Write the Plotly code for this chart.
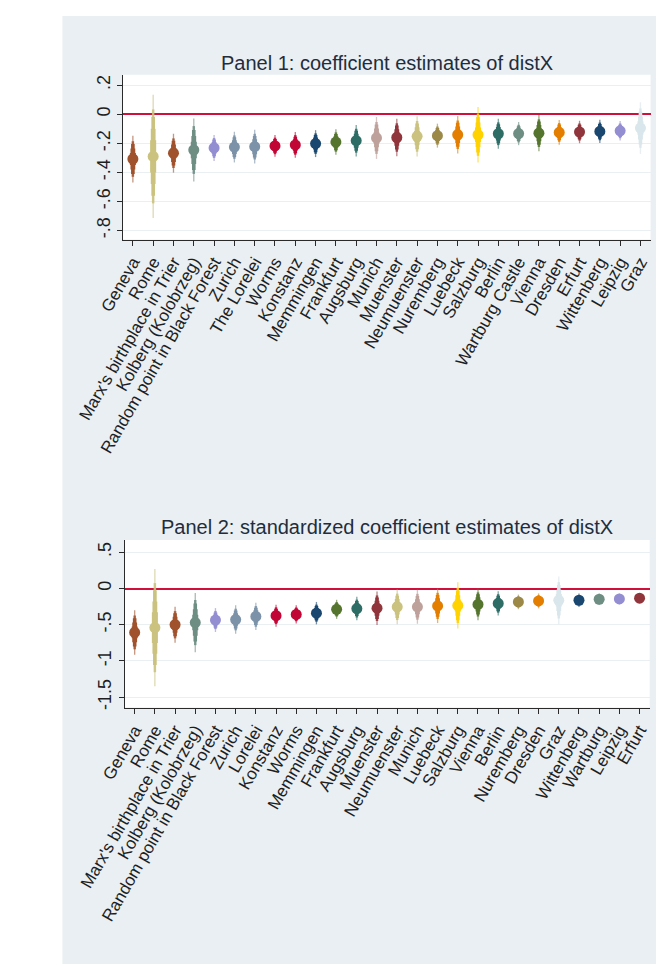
import plotly.graph_objects as go

# ---------------- data ----------------
p1_labels = ["Geneva", "Rome", "Marx's birthplace in Trier", "Kolberg (Kolobrzeg)",
             "Random point in Black Forest", "Zurich", "The Lorelei", "Worms", "Konstanz",
             "Memmingen", "Frankfurt", "Augsburg", "Munich", "Muenster", "Neumuenster",
             "Nuremberg", "Luebeck", "Salzburg", "Berlin", "Wartburg Castle", "Vienna",
             "Dresden", "Erfurt", "Wittenberg", "Leipzig", "Graz"]
p1_est = [-0.308, -0.290, -0.268, -0.246, -0.232, -0.226, -0.223, -0.218, -0.211,
          -0.202, -0.191, -0.182, -0.163, -0.160, -0.152, -0.147, -0.141, -0.141,
          -0.134, -0.133, -0.130, -0.125, -0.122, -0.118, -0.114, -0.095]
p1_se = [0.0625, 0.165, 0.052, 0.084, 0.035, 0.041, 0.045, 0.029, 0.0345,
         0.036, 0.034, 0.042, 0.056, 0.050, 0.054, 0.032, 0.050, 0.074,
         0.040, 0.031, 0.0485, 0.033, 0.030, 0.031, 0.026, 0.069]

p2_labels = ["Geneva", "Rome", "Marx's birthplace in Trier", "Kolberg (Kolobrzeg)",
             "Random point in Black Forest", "Zurich", "Lorelei", "Konstanz", "Worms",
             "Memmingen", "Frankfurt", "Augsburg", "Muenster", "Neumuenster", "Munich",
             "Luebeck", "Salzburg", "Vienna", "Berlin", "Nuremberg", "Dresden", "Graz",
             "Wittenberg", "Wartburg", "Leipzig", "Erfurt"]
p2_est = [-0.606, -0.540, -0.500, -0.470, -0.435, -0.428, -0.385, -0.375, -0.357,
          -0.340, -0.287, -0.277, -0.272, -0.253, -0.252, -0.240, -0.234, -0.220,
          -0.206, -0.185, -0.171, -0.163, -0.162, -0.148, -0.144, -0.134]
p2_se = [0.119, 0.314, 0.096, 0.159, 0.064, 0.076, 0.073, 0.059, 0.0485,
         0.060, 0.051, 0.063, 0.090, 0.093, 0.091, 0.092, 0.124, 0.085,
         0.065, 0.039, 0.040, 0.128, 0.036, 0.031, 0.029, 0.023]

p1_yticks = [0.2, 0, -0.2, -0.4, -0.6, -0.8]
p1_yticktext = [".2", "0", "-.2", "-.4", "-.6", "-.8"]
p2_yticks = [0.5, 0, -0.5, -1, -1.5]
p2_yticktext = [".5", "0", "-.5", "-1", "-1.5"]

title1 = "Panel 1: coefficient estimates of distX"
title2 = "Panel 2: standardized coefficient estimates of distX"

# ---------------- styles ----------------
C = dict(navy="#1a476f", maroon="#90353b", forest="#55752f", dkorange="#e37e00",
         teal="#6e8e84", cranberry="#c10534", lavender="#938dd2", khaki="#cac27e",
         sienna="#a0522d", emidblue="#7b92a8", emerald="#2d6d66", brown="#9c8847",
         erose="#bfa19c", gold="#ffd200", bluishgray="#d9e6eb")
city_color = {
    "Geneva": C["sienna"], "Rome": C["khaki"], "Marx's birthplace in Trier": C["sienna"],
    "Kolberg (Kolobrzeg)": C["teal"], "Random point in Black Forest": C["lavender"],
    "Zurich": C["emidblue"], "The Lorelei": C["emidblue"], "Lorelei": C["emidblue"],
    "Worms": C["cranberry"], "Konstanz": C["cranberry"], "Memmingen": C["navy"],
    "Frankfurt": C["forest"], "Augsburg": C["emerald"], "Munich": C["erose"],
    "Muenster": C["maroon"], "Neumuenster": C["khaki"], "Nuremberg": C["brown"],
    "Luebeck": C["dkorange"], "Salzburg": C["gold"], "Berlin": C["emerald"],
    "Wartburg Castle": C["teal"], "Wartburg": C["teal"], "Vienna": C["forest"],
    "Dresden": C["dkorange"], "Erfurt": C["maroon"], "Wittenberg": C["navy"],
    "Leipzig": C["lavender"], "Graz": C["bluishgray"],
}
# confidence levels drawn as nested spindle (z value, line width, opacity)
ci_levels = [(2.576, 1.3, 0.6), (1.960, 2.5, 0.85), (1.645, 3.6, 1.0),
             (1.150, 4.8, 1.0), (0.674, 6.0, 1.0)]

FONT = "Liberation Sans Narrow, Arial Narrow, Liberation Sans, Arial, sans-serif"
W, H = 664, 968

fig = go.Figure()


def add_panel(labels, est, se, xa, ya):
    for lab, e, s in zip(labels, est, se):
        col = city_color[lab]
        for z, w, op in ci_levels:
            fig.add_trace(go.Scatter(
                x=[lab, lab], y=[e - z * s, e + z * s], mode="lines",
                line=dict(color=col, width=w), opacity=op,
                xaxis=xa, yaxis=ya, showlegend=False, hoverinfo="skip"))
    fig.add_trace(go.Scatter(
        x=labels, y=est, mode="markers",
        marker=dict(color=[city_color[l] for l in labels], size=11, line=dict(width=0)),
        xaxis=xa, yaxis=ya, showlegend=False))


add_panel(p1_labels, p1_est, p1_se, "x", "y")
add_panel(p2_labels, p2_est, p2_se, "x2", "y2")

axis_common = dict(showline=True, linecolor="#2a2a2a", linewidth=1, ticks="outside",
                   ticklen=5, tickcolor="#2a2a2a", tickwidth=1, mirror=False)

xcommon = dict(axis_common, type="category", range=[-0.5, 25.5], tickangle=-60,
               showgrid=False, zeroline=False,
               tickfont=dict(family=FONT, size=17, color="#1e1e1e"))
ycommon = dict(axis_common, showgrid=True, gridcolor="#eaeff2", gridwidth=1,
               zeroline=True, zerolinecolor="#d0103a", zerolinewidth=1.6,
               tickangle=-90, tickfont=dict(family=FONT, size=18, color="#1e1e1e"))

fig.update_layout(
    width=W, height=H,
    margin=dict(l=0, r=0, t=0, b=0),
    paper_bgcolor="white", plot_bgcolor="white",
    showlegend=False,
    font=dict(family=FONT, color="#1e1e1e"),
    xaxis=dict(xcommon, domain=[73 / W, 642 / W], anchor="y",
               categoryorder="array", categoryarray=p1_labels),
    yaxis=dict(ycommon, domain=[1 - 232 / H, 1 - 67 / H], anchor="x",
               range=[-0.8625, 0.2715], tickvals=p1_yticks, ticktext=p1_yticktext),
    xaxis2=dict(xcommon, domain=[75 / W, 641 / W], anchor="y2",
                categoryorder="array", categoryarray=p2_labels),
    yaxis2=dict(ycommon, domain=[1 - 701 / H, 1 - 533 / H], anchor="x2",
                range=[-1.643, 0.671], tickvals=p2_yticks, ticktext=p2_yticktext),
    shapes=[
        dict(type="rect", xref="paper", yref="paper", x0=8 / W, x1=657 / W,
             y0=1 - 958 / H, y1=1 - 8 / H, fillcolor="#e9eff2",
             line=dict(width=0), layer="below"),
        dict(type="rect", xref="x domain", yref="y domain", x0=0, x1=1, y0=0, y1=1,
             fillcolor="white", line=dict(width=0), layer="below"),
        dict(type="rect", xref="x2 domain", yref="y2 domain", x0=0, x1=1, y0=0, y1=1,
             fillcolor="white", line=dict(width=0), layer="below"),
    ],
    annotations=[
        dict(text=title1, xref="paper", yref="paper", x=358 / W, y=1 - 55 / H,
             xanchor="center", yanchor="middle", showarrow=False,
             font=dict(family=FONT, size=20, color="#1f2d3d")),
        dict(text=title2, xref="paper", yref="paper", x=358 / W, y=1 - 520 / H,
             xanchor="center", yanchor="middle", showarrow=False,
             font=dict(family=FONT, size=20, color="#1f2d3d")),
    ],
)

fig.write_html("out.html")
